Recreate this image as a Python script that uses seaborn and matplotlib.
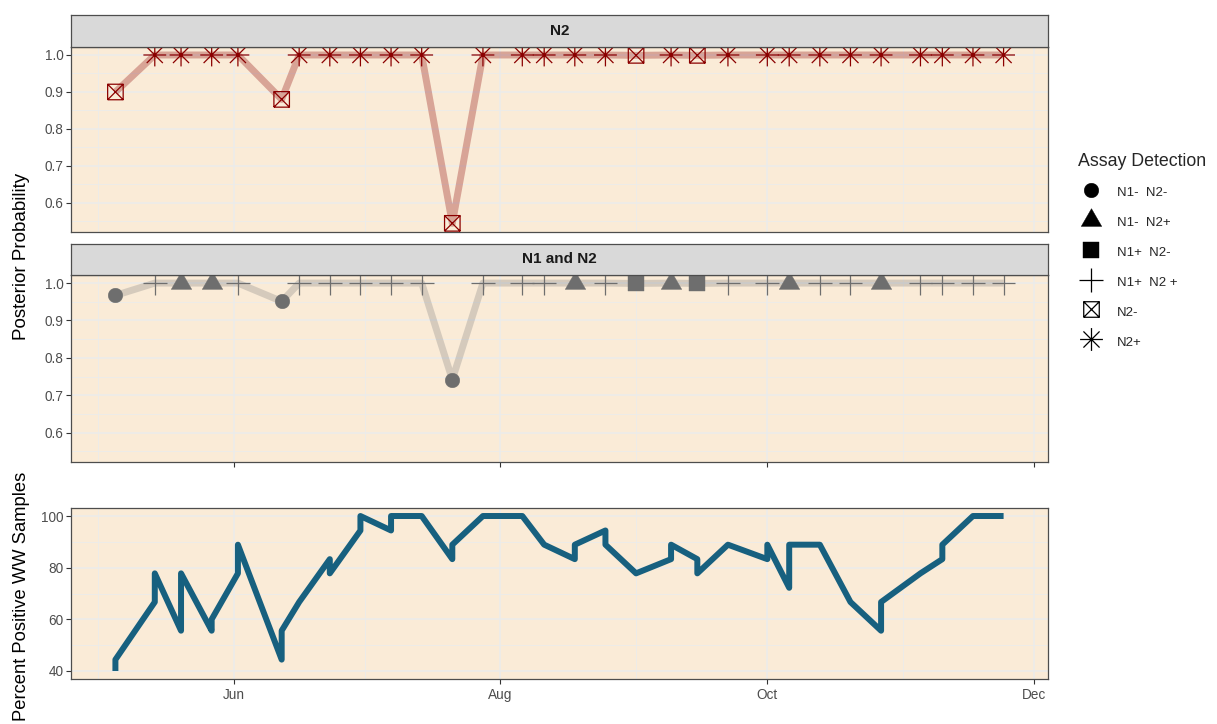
import matplotlib
matplotlib.use("Agg")
import matplotlib.pyplot as plt
import matplotlib.dates as mdates
from matplotlib.path import Path
from matplotlib.lines import Line2D
from matplotlib.ticker import MultipleLocator, FormatStrFormatter
import pandas as pd
import seaborn as sns

# ---- data ----
sample_dates = ["2021-05-05", "2021-05-14", "2021-05-20", "2021-05-27", "2021-06-02",
                "2021-06-12", "2021-06-16", "2021-06-23", "2021-06-30", "2021-07-07",
                "2021-07-14", "2021-07-21", "2021-07-28", "2021-08-06", "2021-08-11",
                "2021-08-18", "2021-08-25", "2021-09-01", "2021-09-09", "2021-09-15",
                "2021-09-22", "2021-10-01", "2021-10-06", "2021-10-13", "2021-10-20",
                "2021-10-27", "2021-11-05", "2021-11-10", "2021-11-17", "2021-11-24"]

n2_posterior = [0.90, 1.0, 1.0, 1.0, 1.0, 0.88, 1.0, 1.0, 1.0, 1.0,
                1.0, 0.545, 1.0, 1.0, 1.0, 1.0, 1.0, 0.999, 1.0, 0.999,
                1.0, 1.0, 1.0, 1.0, 1.0, 1.0, 1.0, 1.0, 1.0, 1.0]
n2_detection = ["N2-", "N2+", "N2+", "N2+", "N2+", "N2-", "N2+", "N2+", "N2+", "N2+",
                "N2+", "N2-", "N2+", "N2+", "N2+", "N2+", "N2+", "N2-", "N2+", "N2-",
                "N2+", "N2+", "N2+", "N2+", "N2+", "N2+", "N2+", "N2+", "N2+", "N2+"]

n1n2_posterior = [0.967, 1.0, 1.0, 1.0, 1.0, 0.951, 1.0, 1.0, 1.0, 1.0,
                  1.0, 0.742, 1.0, 1.0, 1.0, 1.0, 1.0, 0.999, 1.0, 0.999,
                  1.0, 1.0, 1.0, 1.0, 1.0, 1.0, 1.0, 1.0, 1.0, 1.0]
n1n2_detection = ["N1-  N2-", "N1+  N2 +", "N1-  N2+", "N1-  N2+", "N1+  N2 +",
                  "N1-  N2-", "N1+  N2 +", "N1+  N2 +", "N1+  N2 +", "N1+  N2 +",
                  "N1+  N2 +", "N1-  N2-", "N1+  N2 +", "N1+  N2 +", "N1+  N2 +",
                  "N1-  N2+", "N1+  N2 +", "N1+  N2-", "N1-  N2+", "N1+  N2-",
                  "N1+  N2 +", "N1+  N2 +", "N1-  N2+", "N1+  N2 +", "N1+  N2 +",
                  "N1-  N2+", "N1+  N2 +", "N1+  N2 +", "N1+  N2 +", "N1+  N2 +"]

ww_dates = ["2021-05-05", "2021-05-05", "2021-05-14", "2021-05-14", "2021-05-20", "2021-05-20",
            "2021-05-27", "2021-05-27", "2021-06-02", "2021-06-02", "2021-06-12", "2021-06-12",
            "2021-06-16", "2021-06-23", "2021-06-23", "2021-06-30", "2021-06-30", "2021-07-07",
            "2021-07-07", "2021-07-14", "2021-07-21", "2021-07-21", "2021-07-28", "2021-08-06",
            "2021-08-11", "2021-08-18", "2021-08-18", "2021-08-25", "2021-08-25", "2021-09-01",
            "2021-09-09", "2021-09-09", "2021-09-15", "2021-09-15", "2021-09-22", "2021-10-01",
            "2021-10-01", "2021-10-06", "2021-10-06", "2021-10-13", "2021-10-20", "2021-10-27",
            "2021-10-27", "2021-11-05", "2021-11-10", "2021-11-10", "2021-11-17", "2021-11-24"]
ww_percent = [40.0, 44.4, 66.7, 77.8, 55.6, 77.8,
              55.6, 60.0, 77.8, 88.9, 44.4, 55.6,
              66.7, 83.3, 77.8, 94.4, 100.0, 94.4,
              100.0, 100.0, 83.3, 88.9, 100.0, 100.0,
              88.9, 83.3, 88.9, 94.4, 88.9, 77.8,
              83.3, 88.9, 83.3, 77.8, 88.9, 83.3,
              88.9, 72.2, 88.9, 88.9, 66.7, 55.6,
              66.7, 77.8, 83.3, 88.9, 100.0, 100.0]

detect_levels = ["N1-  N2-", "N1-  N2+", "N1+  N2-", "N1+  N2 +", "N2-", "N2+"]

# ---- marker shapes (ggplot-ish) ----
M, L = Path.MOVETO, Path.LINETO
plus_path = Path([(-.5, 0), (.5, 0), (0, -.5), (0, .5)], [M, L, M, L])
q = 0.5
boxx_path = Path([(-q, -q), (q, -q), (q, q), (-q, q), (-q, -q),
                  (-q, -q), (q, q), (-q, q), (q, -q)],
                 [M, L, L, L, L, M, L, M, L])
r = 0.5 * 0.7071
star_path = Path([(-.5, 0), (.5, 0), (0, -.5), (0, .5), (-r, -r), (r, r), (-r, r), (r, -r)],
                 [M, L, M, L, M, L, M, L])
tri_path = Path([(-.5, -.2887), (.5, -.2887), (0, .5774), (-.5, -.2887)],
                [M, L, L, Path.CLOSEPOLY])

# level -> (marker, filled, size in pt^2)
marker_spec = {
    "N1-  N2-": ("o", True, 110),
    "N1-  N2+": (tri_path, True, 290),
    "N1+  N2-": ("s", True, 125),
    "N1+  N2 +": (plus_path, False, 290),
    "N2-": (boxx_path, False, 125),
    "N2+": (star_path, False, 270),
}

BG = "#FAEBD7"
GRID = "#EBEBEB"
BORDER = "#4D4D4D"
TXT = "#4D4D4D"

sns.set_style("white")
plt.rcParams["font.family"] = ["Liberation Sans", "DejaVu Sans"]

top_df = pd.DataFrame({"date": pd.to_datetime(sample_dates), "prob": n2_posterior,
                       "detect": n2_detection})
mid_df = pd.DataFrame({"date": pd.to_datetime(sample_dates), "prob": n1n2_posterior,
                       "detect": n1n2_detection})
ww_df = pd.DataFrame({"date": pd.to_datetime(ww_dates), "pct": ww_percent})

W, H = 1217, 724
fig = plt.figure(figsize=(W / 100, H / 100), dpi=100)


def px_rect(x0, y0, x1, y1):
    return [x0 / W, 1 - y1 / H, (x1 - x0) / W, (y1 - y0) / H]


ax_top = fig.add_axes(px_rect(71, 47, 1048, 232))
ax_mid = fig.add_axes(px_rect(71, 275, 1048, 462))
ax_bot = fig.add_axes(px_rect(71, 508, 1048, 679))

dmin, dmax = top_df["date"].min(), top_df["date"].max()
pad = (dmax - dmin) * 0.05
xlim = (dmin - pad, dmax + pad)


def style_panel(ax, show_xticks, show_xlabels):
    ax.set_facecolor(BG)
    ax.set_xlim(xlim)
    ax.xaxis.set_major_locator(mdates.MonthLocator(bymonth=[6, 8, 10, 12]))
    ax.xaxis.set_minor_locator(mdates.MonthLocator(bymonth=[5, 7, 9, 11]))
    ax.xaxis.set_major_formatter(mdates.DateFormatter("%b"))
    ax.grid(which="major", color=GRID, linewidth=1.1)
    ax.grid(which="minor", color=GRID, linewidth=0.6)
    ax.set_axisbelow(True)
    for sp in ax.spines.values():
        sp.set_visible(True)
        sp.set_color(BORDER)
        sp.set_linewidth(0.9)
    ax.tick_params(which="major", axis="y", length=3.5, width=0.8, color="#333333",
                   labelsize=9.8, labelcolor=TXT, pad=2, left=True)
    ax.tick_params(which="major", axis="x", length=3.5 if show_xticks else 0, width=0.8,
                   color="#333333", labelsize=9.8, labelcolor=TXT, pad=3,
                   bottom=show_xticks, labelbottom=show_xlabels)
    ax.tick_params(which="minor", length=0)
    ax.set_xlabel("")
    ax.set_ylabel("")


def prob_panel(ax, df, color, line_color):
    sns.lineplot(data=df, x="date", y="prob", ax=ax, color=line_color, alpha=0.3,
                 linewidth=5, sort=False, estimator=None, solid_joinstyle="round",
                 solid_capstyle="butt", zorder=2)
    for level in detect_levels:
        sub = df[df["detect"] == level]
        if sub.empty:
            continue
        mk, filled, size = marker_spec[level]
        if filled:
            sns.scatterplot(data=sub, x="date", y="prob", ax=ax, marker=mk, s=size,
                            color=color, edgecolor=color, linewidth=0.3, zorder=3)
        else:
            sns.scatterplot(data=sub, x="date", y="prob", ax=ax, marker=mk, s=size,
                            color=color, facecolor="none", edgecolor=color,
                            linewidth=0.9, zorder=3)
    ax.set_ylim(0.5216, 1.0216)
    ax.yaxis.set_major_locator(MultipleLocator(0.1))
    ax.yaxis.set_minor_locator(MultipleLocator(0.05))
    ax.yaxis.set_major_formatter(FormatStrFormatter("%.1f"))


prob_panel(ax_top, top_df, "#8B0000", "#8B0000")
prob_panel(ax_mid, mid_df, "#6E6E6E", "#808080")
style_panel(ax_top, False, False)
style_panel(ax_mid, True, False)

sns.lineplot(data=ww_df, x="date", y="pct", ax=ax_bot, color="#17607F", linewidth=4.3,
             sort=False, estimator=None, solid_joinstyle="round", solid_capstyle="butt")
ax_bot.set_ylim(36.9, 103.1)
ax_bot.yaxis.set_major_locator(MultipleLocator(20))
ax_bot.yaxis.set_minor_locator(MultipleLocator(10))
style_panel(ax_bot, True, True)

# facet strips
for rect, label in [(px_rect(71, 15, 1048, 47), "N2"), (px_rect(71, 244, 1048, 275), "N1 and N2")]:
    sax = fig.add_axes(rect)
    sax.set_facecolor("#D9D9D9")
    sax.set_xticks([])
    sax.set_yticks([])
    for sp in sax.spines.values():
        sp.set_visible(True)
        sp.set_color(BORDER)
        sp.set_linewidth(0.9)
    sax.text(0.5, 0.5, label, ha="center", va="center", fontsize=11, fontweight="bold",
             color="#1A1A1A", transform=sax.transAxes)

fig.text(22 / W, 1 - 256 / H, "Posterior Probability", rotation=90, ha="center",
         va="center", fontsize=13.5, color="black")
fig.text(22 / W, 1 - 596 / H, "Percent Positive WW Samples", rotation=90, ha="center",
         va="center", fontsize=13.2, color="black")

# legend
handles = []
for level in detect_levels:
    mk, filled, size = marker_spec[level]
    handles.append(Line2D([], [], linestyle="none", marker=mk, markersize=size ** 0.5,
                          markerfacecolor="black" if filled else "none",
                          markeredgecolor="black", markeredgewidth=0.9 if not filled else 0.3))
fig.legend(handles, detect_levels, loc="upper left",
           bbox_to_anchor=(1071 / W, 1 - 146 / H), frameon=False,
           title="Assay Detection", title_fontsize=12.8, fontsize=9.5,
           labelspacing=1.05, handletextpad=0.95, handlelength=2.0, handleheight=1.5,
           borderpad=0, alignment="left")

fig.savefig("out.png", dpi=100)
